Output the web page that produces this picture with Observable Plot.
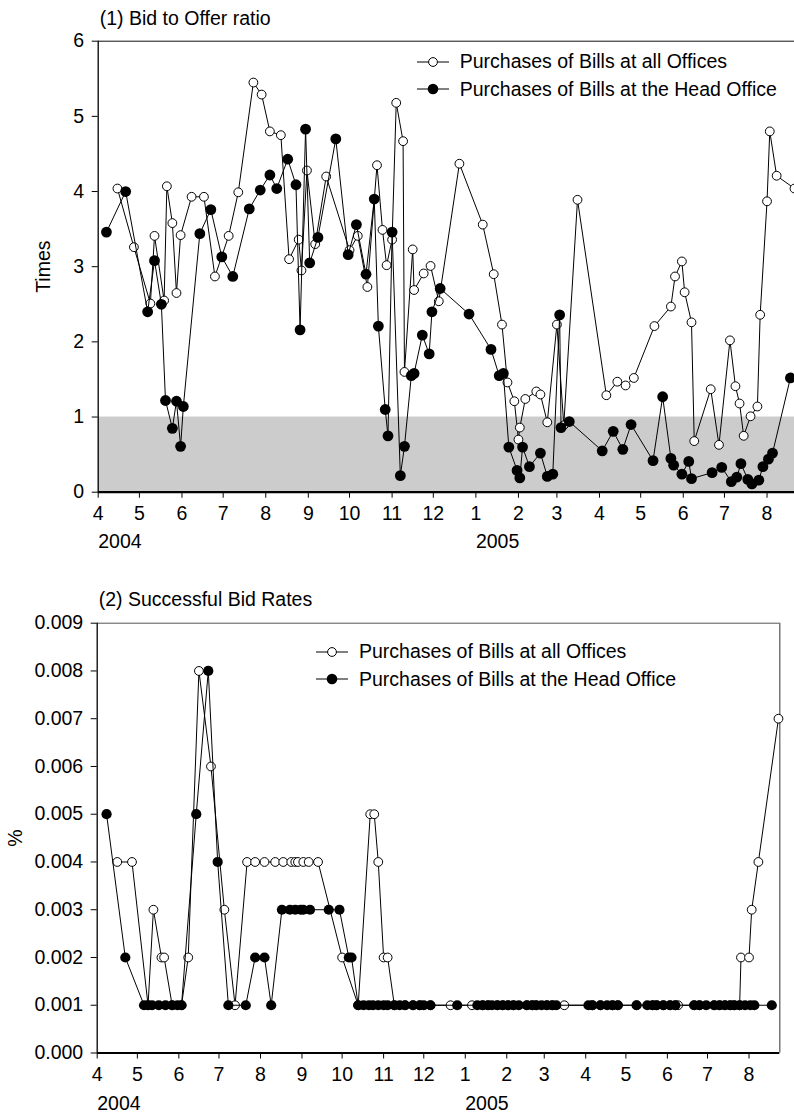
<!DOCTYPE html>
<html><head><meta charset="utf-8">
<script src="https://cdn.jsdelivr.net/npm/d3@7"></script>
<script src="https://cdn.jsdelivr.net/npm/@observablehq/plot@0.6"></script>
<style>
body{margin:0;background:#fff;font-family:"Liberation Sans",Arial,sans-serif;}
#wrap{position:relative;width:794px;height:1113px;overflow:hidden;background:#fff;}
#wrap svg{position:absolute;left:0;}
.legend{position:absolute;font-size:19.5px;color:#000;line-height:1;}
.row{display:flex;align-items:center;height:27.6px;white-space:nowrap;}
.row svg{position:static !important;flex:none;}
</style></head><body><div id="wrap"></div>
<script>
// ---------- data ----------
const seriesNames = ["Purchases of Bills at all Offices", "Purchases of Bills at the Head Office"];
const title1 = "(1) Bid to Offer ratio";
const title2 = "(2) Successful Bid Rates";
const yLabel1 = "Times";
const yLabel2 = "%";
const tickMonths = ["2004-04-01","2004-05-01","2004-06-01","2004-07-01","2004-08-01","2004-09-01","2004-10-01","2004-11-01","2004-12-01","2005-01-01","2005-02-01","2005-03-01","2005-04-01","2005-05-01","2005-06-01","2005-07-01","2005-08-01"];
const yearLabels = ["2004","2005"];
const yearDates = ["2004-04-01","2005-01-01"];
const yTicks1 = [0,1,2,3,4,5,6];
const yTicks2 = [0,0.001,0.002,0.003,0.004,0.005,0.006,0.007,0.008,0.009];
const xStart = "2004-04-01";
const xEnd1 = "2005-08-21";
const xEnd2 = "2005-08-24";
const bandLow = 0, bandHigh = 1;

// (1) Bid to Offer ratio — all offices
const allDates1 = ["2004-04-15","2004-04-27","2004-05-09","2004-05-12","2004-05-19","2004-05-21","2004-05-25","2004-05-28","2004-05-31","2004-06-08","2004-06-17","2004-06-25","2004-07-05","2004-07-12","2004-07-23","2004-07-29","2004-08-04","2004-08-12","2004-08-18","2004-08-25","2004-08-27","2004-08-31","2004-09-06","2004-09-14","2004-10-01","2004-10-07","2004-10-14","2004-10-21","2004-10-25","2004-10-28","2004-11-01","2004-11-04","2004-11-09","2004-11-10","2004-11-16","2004-11-17","2004-11-24","2004-11-29","2004-12-05","2004-12-20","2005-01-06","2005-01-14","2005-01-20","2005-01-24","2005-01-29","2005-02-01","2005-02-02","2005-02-06","2005-02-14","2005-02-17","2005-02-22","2005-03-01","2005-03-06","2005-03-16","2005-04-06","2005-04-14","2005-04-20","2005-04-26","2005-05-11","2005-05-23","2005-05-26","2005-05-31","2005-06-02","2005-06-07","2005-06-09","2005-06-21","2005-06-27","2005-07-05","2005-07-09","2005-07-12","2005-07-15","2005-07-20","2005-07-25","2005-07-27","2005-08-01","2005-08-03","2005-08-08","2005-08-21"];
const allVals1 = [4.04,3.26,2.51,3.41,2.55,4.07,3.58,2.65,3.42,3.93,3.93,2.87,3.41,3.99,5.45,5.29,4.80,4.75,3.10,3.36,2.95,4.28,3.30,4.20,3.22,3.41,2.73,4.35,3.49,3.02,3.36,5.18,4.67,1.60,3.23,2.69,2.91,3.01,2.54,4.37,3.56,2.90,2.23,1.46,1.21,0.70,0.86,1.24,1.34,1.30,0.93,2.23,0.89,3.89,1.29,1.47,1.42,1.52,2.21,2.47,2.87,3.07,2.66,2.26,0.68,1.37,0.63,2.02,1.41,1.18,0.75,1.01,1.14,2.36,3.87,4.80,4.21,4.04];

// (1) Bid to Offer ratio — head office
const headDates1 = ["2004-04-07","2004-04-21","2004-05-07","2004-05-12","2004-05-17","2004-05-20","2004-05-25","2004-05-28","2004-05-31","2004-06-02","2004-06-14","2004-06-22","2004-06-30","2004-07-08","2004-07-20","2004-07-28","2004-08-04","2004-08-09","2004-08-17","2004-08-23","2004-08-26","2004-08-30","2004-09-02","2004-09-08","2004-09-21","2004-09-30","2004-10-06","2004-10-13","2004-10-19","2004-10-22","2004-10-27","2004-10-29","2004-11-01","2004-11-07","2004-11-10","2004-11-15","2004-11-17","2004-11-23","2004-11-28","2004-11-30","2004-12-06","2004-12-27","2005-01-12","2005-01-18","2005-01-21","2005-01-25","2005-01-31","2005-02-02","2005-02-04","2005-02-09","2005-02-17","2005-02-22","2005-02-26","2005-03-03","2005-03-04","2005-03-10","2005-04-03","2005-04-11","2005-04-18","2005-04-24","2005-05-10","2005-05-17","2005-05-23","2005-05-25","2005-05-31","2005-06-05","2005-06-07","2005-06-22","2005-06-29","2005-07-06","2005-07-10","2005-07-13","2005-07-18","2005-07-21","2005-07-26","2005-07-29","2005-08-02","2005-08-05","2005-08-18"];
const headVals1 = [3.46,4.00,2.40,3.08,2.50,1.22,0.85,1.21,0.61,1.14,3.44,3.76,3.13,2.87,3.77,4.02,4.22,4.04,4.43,4.09,2.16,4.83,3.05,3.39,4.70,3.16,3.56,2.90,3.90,2.21,1.10,0.75,3.46,0.22,0.61,1.55,1.58,2.09,1.84,2.40,2.71,2.37,1.90,1.55,1.58,0.60,0.29,0.19,0.60,0.34,0.52,0.21,0.24,2.36,0.86,0.94,0.55,0.81,0.57,0.90,0.42,1.27,0.45,0.36,0.24,0.41,0.18,0.26,0.33,0.14,0.20,0.38,0.17,0.11,0.16,0.34,0.44,0.52,1.52];

// (2) Successful Bid Rates — all offices
const allDates2 = ["2004-04-16","2004-04-27","2004-05-09","2004-05-13","2004-05-19","2004-05-21","2004-05-27","2004-06-03","2004-06-08","2004-06-16","2004-06-25","2004-07-05","2004-07-13","2004-07-22","2004-07-28","2004-08-04","2004-08-12","2004-08-18","2004-08-24","2004-08-27","2004-08-29","2004-09-02","2004-09-06","2004-09-13","2004-10-01","2004-10-13","2004-10-22","2004-10-25","2004-10-28","2004-11-01","2004-11-04","2004-11-09","2004-11-17","2004-11-23","2004-11-28","2004-12-06","2004-12-21","2005-01-06","2005-01-14","2005-01-18","2005-01-25","2005-01-29","2005-02-02","2005-02-06","2005-02-16","2005-02-20","2005-02-23","2005-03-03","2005-03-07","2005-03-16","2005-04-06","2005-04-12","2005-04-21","2005-04-25","2005-05-09","2005-05-21","2005-05-24","2005-05-29","2005-06-03","2005-06-07","2005-06-09","2005-06-21","2005-06-25","2005-07-06","2005-07-10","2005-07-14","2005-07-18","2005-07-21","2005-07-25","2005-07-26","2005-08-01","2005-08-03","2005-08-08","2005-08-23"];
const allVals2 = [0.004,0.004,0.001,0.003,0.002,0.002,0.001,0.001,0.002,0.008,0.006,0.003,0.001,0.004,0.004,0.004,0.004,0.004,0.004,0.004,0.004,0.004,0.004,0.004,0.002,0.001,0.005,0.005,0.004,0.002,0.002,0.001,0.001,0.001,0.001,0.001,0.001,0.001,0.001,0.001,0.001,0.001,0.001,0.001,0.001,0.001,0.001,0.001,0.001,0.001,0.001,0.001,0.001,0.001,0.001,0.001,0.001,0.001,0.001,0.001,0.001,0.001,0.001,0.001,0.001,0.001,0.001,0.001,0.001,0.002,0.002,0.003,0.004,0.007];

// (2) Successful Bid Rates — head office
const headDates2 = ["2004-04-08","2004-04-22","2004-05-06","2004-05-09","2004-05-12","2004-05-17","2004-05-22","2004-05-27","2004-05-31","2004-06-03","2004-06-14","2004-06-23","2004-06-30","2004-07-08","2004-07-21","2004-07-28","2004-08-04","2004-08-09","2004-08-17","2004-08-23","2004-08-27","2004-08-31","2004-09-02","2004-09-07","2004-09-21","2004-09-29","2004-10-06","2004-10-08","2004-10-13","2004-10-17","2004-10-21","2004-10-24","2004-10-28","2004-11-01","2004-11-04","2004-11-09","2004-11-13","2004-11-17","2004-11-23","2004-11-28","2004-12-01","2004-12-06","2004-12-26","2005-01-10","2005-01-14","2005-01-18","2005-01-21","2005-01-25","2005-01-29","2005-02-02","2005-02-06","2005-02-10","2005-02-16","2005-02-20","2005-02-23","2005-02-27","2005-03-03","2005-03-07","2005-03-10","2005-04-03","2005-04-06","2005-04-12","2005-04-17","2005-04-21","2005-04-25","2005-05-09","2005-05-17","2005-05-21","2005-05-24","2005-05-29","2005-06-03","2005-06-07","2005-06-21","2005-06-25","2005-06-30","2005-07-06","2005-07-10","2005-07-14","2005-07-18","2005-07-21","2005-07-25","2005-07-29","2005-08-02","2005-08-05","2005-08-18"];
const headVals2 = [0.005,0.002,0.001,0.001,0.001,0.001,0.001,0.001,0.001,0.001,0.005,0.008,0.004,0.001,0.001,0.002,0.002,0.001,0.003,0.003,0.003,0.003,0.003,0.003,0.003,0.003,0.002,0.002,0.001,0.001,0.001,0.001,0.001,0.001,0.001,0.001,0.001,0.001,0.001,0.001,0.001,0.001,0.001,0.001,0.001,0.001,0.001,0.001,0.001,0.001,0.001,0.001,0.001,0.001,0.001,0.001,0.001,0.001,0.001,0.001,0.001,0.001,0.001,0.001,0.001,0.001,0.001,0.001,0.001,0.001,0.001,0.001,0.001,0.001,0.001,0.001,0.001,0.001,0.001,0.001,0.001,0.001,0.001,0.001,0.001];

// ---------- build ----------
const parse = d3.utcParse("%Y-%m-%d");
const rows = (dates, vals) => dates.map((d, i) => ({date: parse(d), value: vals[i]}));
const months = tickMonths.map(parse);
const years = yearLabels.map((t, i) => ({date: parse(yearDates[i]), label: t}));
const FONT = "'Liberation Sans', Arial, Helvetica, sans-serif";

function chart(o) {
  const all = rows(o.allDates, o.allVals);
  const head = rows(o.headDates, o.headVals);
  const x0 = parse(xStart), x1 = parse(o.xEnd);
  const marks = [];
  if (o.band) marks.push(Plot.rect([{lo: bandLow, hi: bandHigh}], {x1: () => x0, x2: () => x1, y1: "lo", y2: "hi", fill: "#cccccc"}));
  marks.push(
    Plot.ruleY([o.yDomain[1]], {stroke: o.frameColor, strokeWidth: 1}),
    o.rightLine ? Plot.ruleX([x1], {stroke: o.frameColor, strokeWidth: 1.2}) : null,
    Plot.ruleX([x0], {stroke: "black", strokeWidth: 1.3}),
    Plot.ruleY([o.yDomain[0]], {stroke: "black", strokeWidth: 2.2}),
    Plot.axisX({ticks: months, tickFormat: d => String(d.getUTCMonth() + 1), tickSize: 6, tickPadding: 8, label: null, stroke: "black"}),
    Plot.axisY({ticks: o.yTicks, tickFormat: o.yFormat, tickSize: 6, tickPadding: 8, label: null, stroke: "black"}),
    Plot.text(years, {x: "date", text: "label", frameAnchor: "bottom", dy: o.yearDy, textAnchor: "start", lineAnchor: "middle", fill: "black"}),
    Plot.text([o.title], {frameAnchor: "top-left", dx: 1.5, dy: o.titleDy, textAnchor: "start", lineAnchor: "middle", fill: "black"}),
    Plot.text([o.yLabel], {frameAnchor: "left", dx: o.yLabelDx, rotate: -90, textAnchor: "middle", lineAnchor: "middle", fill: "black"}),
    Plot.line(all, {x: "date", y: "value", stroke: "black", strokeWidth: 1}),
    Plot.dot(all, {x: "date", y: "value", r: 4.4, fill: "white", stroke: "black", strokeWidth: 1}),
    Plot.line(head, {x: "date", y: "value", stroke: "black", strokeWidth: 1}),
    Plot.dot(head, {x: "date", y: "value", r: o.filledR, fill: "black", stroke: "none"})
  );
  const svg = Plot.plot({
    width: 794, height: o.height,
    marginLeft: o.ml, marginRight: o.mr, marginTop: o.mt, marginBottom: o.mb,
    style: {fontFamily: FONT, fontSize: "19.5px", background: "white", color: "black", overflow: "visible", maxWidth: "none"},
    x: {type: "utc", domain: [x0, x1]},
    y: {domain: o.yDomain},
    marks: marks.filter(Boolean)
  });
  svg.style.top = o.top + "px";
  return svg;
}

function legend(left, top) {
  const div = document.createElement("div");
  div.className = "legend";
  div.style.left = left + "px";
  div.style.top = top + "px";
  seriesNames.forEach((name, i) => {
    const row = document.createElement("div");
    row.className = "row";
    const s = d3.create("svg").attr("width", 43).attr("height", 14);
    s.append("line").attr("x1", 0).attr("x2", 32).attr("y1", 7).attr("y2", 7).attr("stroke", "black").attr("stroke-width", 1);
    s.append("circle").attr("cx", 16).attr("cy", 7).attr("r", i === 0 ? 4.4 : 5.3)
      .attr("fill", i === 0 ? "white" : "black").attr("stroke", i === 0 ? "black" : "none");
    row.appendChild(s.node());
    const t = document.createElement("span");
    t.textContent = name;
    row.appendChild(t);
    div.appendChild(row);
  });
  return div;
}

const wrap = document.getElementById("wrap");
wrap.appendChild(chart({
  top: 0, height: 560, ml: 97.7, mr: 0, mt: 40.7, mb: 68.3,
  xEnd: xEnd1, yDomain: [0, 6], yTicks: yTicks1, yFormat: d => String(d),
  allDates: allDates1, allVals: allVals1, headDates: headDates1, headVals: headVals1,
  band: true, rightLine: false, frameColor: "#111", filledR: 5.4,
  title: title1, titleDy: -22, yLabel: yLabel1, yLabelDx: -54, yearDy: 50
}));
wrap.appendChild(chart({
  top: 560, height: 553, ml: 96.7, mr: 14.7, mt: 62.7, mb: 60.5,
  xEnd: xEnd2, yDomain: [0, 0.009], yTicks: yTicks2, yFormat: d3.format(".3f"),
  allDates: allDates2, allVals: allVals2, headDates: headDates2, headVals: headVals2,
  band: false, rightLine: true, frameColor: "#555", filledR: 5.1,
  title: title2, titleDy: -23, yLabel: yLabel2, yLabelDx: -81.7, yearDy: 51
}));
wrap.appendChild(legend(416.7, 47.9));
wrap.appendChild(legend(316, 651.7 - 13.8));
</script></body></html>
